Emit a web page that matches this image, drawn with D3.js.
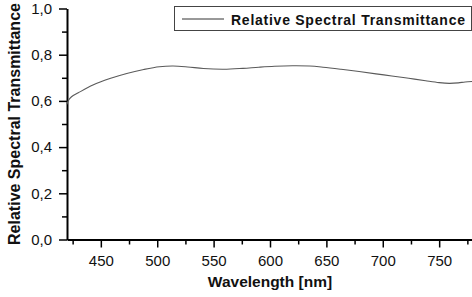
<!DOCTYPE html>
<html>
<head>
<meta charset="utf-8">
<script src="https://cdn.jsdelivr.net/npm/d3@7"></script>
<style>
  body { margin: 0; background: #fff; }
  svg { display: block; font-family: "Liberation Sans", Arial, sans-serif; }
</style>
</head>
<body>
<svg id="chart" width="472" height="297"></svg>
<script>
// values
var wavelength = [420, 421, 424, 430, 443, 458, 473, 488, 502, 514, 527, 541, 559, 576, 590,
                  604, 620, 635, 647, 663, 679, 694, 708, 723, 738, 750, 759, 767, 773, 780];
var transmittance = [0.585, 0.600, 0.618, 0.635, 0.669, 0.697, 0.719, 0.736, 0.748, 0.751, 0.747, 0.740, 0.737, 0.741, 0.746,
                     0.750, 0.752, 0.751, 0.746, 0.737, 0.727, 0.717, 0.708, 0.698, 0.687, 0.679, 0.676, 0.678, 0.682, 0.684];
var xTicks = [450, 500, 550, 600, 650, 700, 750];
var yTicks = [0, 0.2, 0.4, 0.6, 0.8, 1.0];
var seriesName = "Relative Spectral Transmittance";

var svg = d3.select("#chart"),
    margin = {top: 8.5, right: -1, bottom: 57.5, left: 67},
    width = +svg.attr("width") - margin.left - margin.right,
    height = +svg.attr("height") - margin.top - margin.bottom;

var x = d3.scaleLinear().domain([420, 780]).range([0, width]),
    y = d3.scaleLinear().domain([0, 1]).range([height, 0]);

var g = svg.append("g")
    .attr("transform", "translate(" + margin.left + "," + margin.top + ")");

var comma = function(d) { return d3.format(".1f")(d).replace(".", ","); };

// minor ticks first, then major axes on top
var xMinor = d3.range(425, 781, 50);
var yMinor = d3.range(0.1, 1.0, 0.2);

g.append("g")
    .attr("transform", "translate(0," + height + ")")
    .call(d3.axisBottom(x).tickValues(xMinor).tickSize(5).tickFormat(""))
    .call(function(a) { a.select(".domain").remove(); a.selectAll("line").attr("stroke-width", 1.5); });

g.append("g")
    .call(d3.axisLeft(y).tickValues(yMinor).tickSize(5).tickFormat(""))
    .call(function(a) { a.select(".domain").remove(); a.selectAll("line").attr("stroke-width", 1.5); });

var xAxis = g.append("g")
    .attr("transform", "translate(0," + height + ")")
    .call(d3.axisBottom(x).tickValues(xTicks).tickSize(8).tickSizeOuter(0).tickPadding(7.5));

var yAxis = g.append("g")
    .call(d3.axisLeft(y).tickValues(yTicks).tickSize(8).tickSizeOuter(0).tickPadding(7).tickFormat(comma));

[xAxis, yAxis].forEach(function(a) {
  a.select(".domain").attr("stroke-width", 2);
  a.selectAll(".tick line").attr("stroke-width", 1.5);
  a.selectAll("text").attr("font-size", 15).attr("fill", "#111")
      .attr("font-family", "'Liberation Sans', Arial, sans-serif");
});

// curve
var line = d3.line()
    .x(function(d, i) { return x(wavelength[i]); })
    .y(function(d) { return y(d); })
    .curve(d3.curveCatmullRom.alpha(0.5));

g.append("path")
    .datum(transmittance)
    .attr("fill", "none")
    .attr("stroke", "#5a5a5a")
    .attr("stroke-width", 1.1)
    .attr("d", line);

// axis titles
svg.append("text")
    .attr("x", margin.left + width / 2)
    .attr("y", 287)
    .attr("text-anchor", "middle")
    .attr("font-size", 15.5)
    .attr("font-weight", "bold")
    .attr("fill", "#111")
    .text("Wavelength [nm]");

svg.append("text")
    .attr("transform", "translate(19.5," + (margin.top + height / 2) + ") rotate(-90)")
    .attr("text-anchor", "middle")
    .attr("font-size", 16)
    .attr("font-weight", "bold")
    .attr("fill", "#111")
    .text(seriesName);

// legend
var legend = svg.append("g");

legend.append("rect")
    .attr("x", 174.5)
    .attr("y", 6.5)
    .attr("width", 297)
    .attr("height", 24)
    .attr("fill", "#fff")
    .attr("stroke", "#444")
    .attr("stroke-width", 1);

legend.append("line")
    .attr("x1", 182).attr("x2", 224)
    .attr("y1", 19).attr("y2", 19)
    .attr("stroke", "#333")
    .attr("stroke-width", 1);

legend.append("text")
    .attr("x", 231)
    .attr("y", 25)
    .attr("font-size", 14)
    .attr("font-weight", "bold")
    .attr("fill", "#111")
    .attr("textLength", 234)
    .attr("lengthAdjust", "spacing")
    .text(seriesName);
</script>
</body>
</html>
